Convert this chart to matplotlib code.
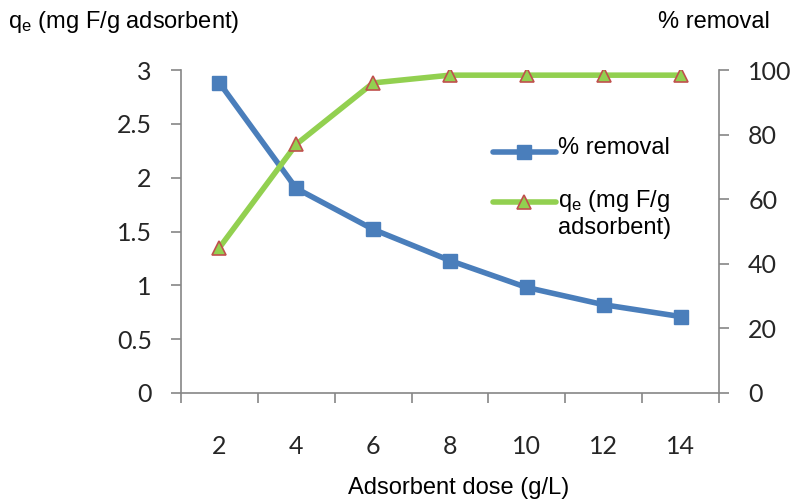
import matplotlib
matplotlib.use("Agg")
import numpy as np
import matplotlib.pyplot as plt
from matplotlib.ticker import FixedLocator, NullFormatter
from matplotlib.legend_handler import HandlerLine2D

plt.rcParams['mathtext.default'] = 'regular'

doses = ["2", "4", "6", "8", "10", "12", "14"]
removal_left = [2.88, 1.90, 1.52, 1.23, 0.98, 0.82, 0.71]
qe_right = [45, 77, 96, 98.4, 98.4, 98.4, 98.4]
left_ticks = [0, 0.5, 1, 1.5, 2, 2.5, 3]
left_ticklabels = ["0", "0.5", "1", "1.5", "2", "2.5", "3"]
right_ticks = [0, 20, 40, 60, 80, 100]

blue = '#4A7EBB'
green = '#92D050'
tri_edge = '#C0504D'
axis_gray = '#868686'
tick_font = 'Lato'
text_font = 'Liberation Sans'


class ShiftedLine(HandlerLine2D):
    def __init__(self, dy, **kw):
        super().__init__(**kw)
        self.dy = dy

    def create_artists(self, legend, orig_handle, xdescent, ydescent, width,
                       height, fontsize, trans):
        arts = super().create_artists(legend, orig_handle, xdescent, ydescent,
                                      width, height, fontsize, trans)
        for a in arts:
            a.set_ydata(np.asarray(a.get_ydata(), dtype=float) + self.dy * fontsize)
        return arts


fig = plt.figure(figsize=(7.99, 4.99), dpi=100)
ax = fig.add_axes([181/799, 1-393/499, (719-181)/799, (393-70)/499])
ax2 = ax.twinx()

x = list(range(len(doses)))
l1, = ax.plot(x, removal_left, color=blue, lw=4, marker='s', ms=10,
              mfc=blue, mec=blue, label='% removal', solid_capstyle='round')
l2, = ax2.plot(x, qe_right, color=green, lw=4, marker='^', ms=10,
               mfc=green, mec=tri_edge, mew=1.2, label='q$_e$ (mg F/g\nadsorbent)',
               solid_capstyle='round')

ax.set_xlim(-0.5, len(doses) - 0.5)
ax.set_ylim(0, 3)
ax2.set_ylim(0, 100)

for a in (ax, ax2):
    a.spines['top'].set_visible(False)
    for s in a.spines.values():
        s.set_color(axis_gray)
        s.set_linewidth(1.2)
ax.spines['right'].set_visible(False)
ax2.spines['left'].set_visible(False)
ax2.spines['bottom'].set_visible(False)

ax.set_xticks(x)
ax.set_xticklabels(doses, fontfamily=tick_font, fontsize=18, color='#262626')
ax.tick_params(axis='x', which='major', length=0, pad=30)
ax.xaxis.set_minor_locator(FixedLocator([i - 0.5 for i in range(len(doses) + 1)]))
ax.xaxis.set_minor_formatter(NullFormatter())
ax.tick_params(axis='x', which='minor', length=7, width=1.2, color=axis_gray, direction='out')

ax.set_yticks(left_ticks)
ax.set_yticklabels(left_ticklabels, fontfamily=tick_font, fontsize=18, color='#262626')
ax.tick_params(axis='y', length=7, width=1.2, color=axis_gray, pad=14)

ax2.set_yticks(right_ticks)
ax2.set_yticklabels([str(v) for v in right_ticks], fontfamily=tick_font, fontsize=18, color='#262626')
ax2.tick_params(axis='y', length=7, width=1.2, color=axis_gray, pad=14)

fig.text(8/799, 1-22/499, 'q$_e$ (mg F/g adsorbent)', fontfamily=text_font, fontsize=17,
         ha='left', va='center')
fig.text(770/799, 1-22/499, '% removal', fontfamily=text_font, fontsize=17,
         ha='right', va='center')
fig.text(459/799, 1-488/499, 'Adsorbent dose (g/L)', fontfamily=text_font, fontsize=17,
         ha='center', va='center')

leg = ax2.legend([l1, l2], [l1.get_label(), l2.get_label()], loc='upper left',
                 bbox_to_anchor=(472/799, 1-116/499), bbox_transform=fig.transFigure,
                 frameon=False, handlelength=2.64, handletextpad=0.1, labelspacing=1.2,
                 prop={'family': text_font, 'size': 17},
                 handler_map={l1: ShiftedLine(-0.25), l2: ShiftedLine(0.47)})

fig.savefig('out.png', dpi=100)
